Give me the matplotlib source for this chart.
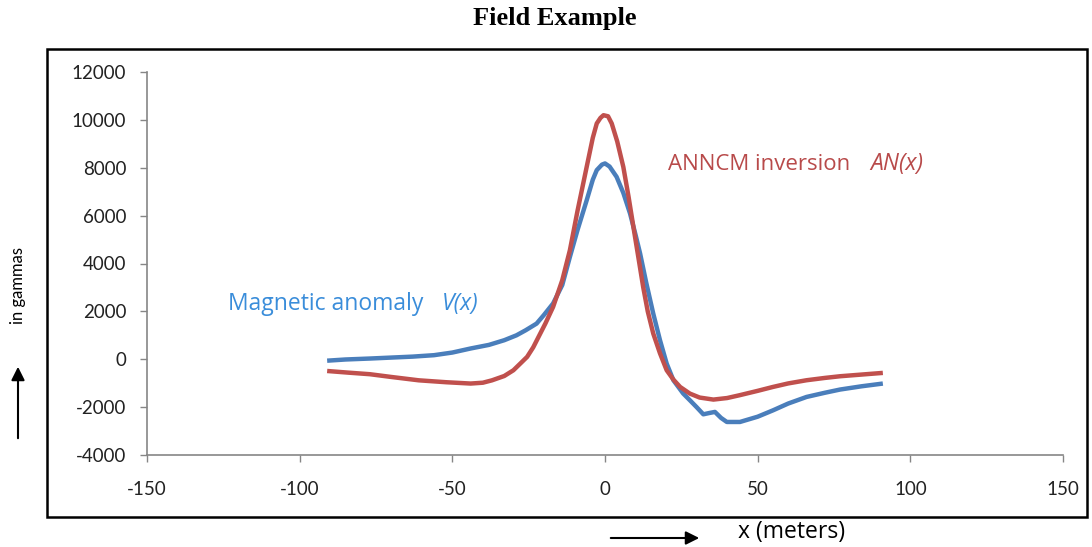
import matplotlib
matplotlib.use("Agg")
import matplotlib.pyplot as plt
from matplotlib.patches import Rectangle, FancyArrowPatch

# ---- data ----
v_x = [-91, -85, -77, -70, -63, -56, -50, -44, -38, -33, -29, -26, -22.4, -20, -17, -14,
       -11.5, -9, -6, -4, -2.7, -1, 0, 1.5, 3.8, 6, 8.2, 10, 11.5, 13.5, 15.8, 18, 20.2,
       22.4, 25.6, 27.8, 30, 32.2, 34, 36, 38, 39.9, 44.2, 50, 55.1, 60, 66, 72, 77, 84, 91]
v_y = [-60, -10, 30, 70, 110, 170, 280, 450, 600, 795, 1000, 1210, 1490, 1850, 2330, 3100,
       4275, 5400, 6640, 7500, 7900, 8130, 8180, 8050, 7620, 6950, 6090, 5200, 4415, 3200,
       1910, 800, -180, -877, -1430, -1713, -2000, -2300, -2250, -2200, -2450, -2620, -2620,
       -2400, -2130, -1850, -1575, -1400, -1265, -1130, -1015]

an_x = [-91, -84, -77, -70, -61, -52, -44, -40, -37, -33, -30, -27.5, -25.5, -23.5, -21.5,
        -19.5, -17, -14, -11.5, -9, -6, -4, -2.7, -1.5, -0.5, 1, 2.2, 4, 6, 7.7, 9.3, 11,
        12.5, 14, 15.8, 18, 20.2, 22.4, 24.6, 27.8, 31, 35.5, 40, 44, 50, 55, 60, 66, 72,
        77, 84, 91]
an_y = [-490, -560, -625, -740, -880, -960, -1015, -980, -880, -700, -460, -150, 100, 500,
        1000, 1500, 2185, 3300, 4555, 6200, 8035, 9250, 9850, 10080, 10195, 10150, 9850,
        9100, 8035, 6800, 5530, 4200, 3020, 2000, 1075, 250, -460, -850, -1157, -1435, -1600,
        -1685, -1620, -1505, -1320, -1157, -1010, -877, -780, -710, -640, -570]

x_ticks = [-150, -100, -50, 0, 50, 100, 150]
y_ticks = [-4000, -2000, 0, 2000, 4000, 6000, 8000, 10000, 12000]

title = "Field Example"
v_label = "Magnetic anomaly"
v_sym = "V(x)"
an_label = "ANNCM inversion"
an_sym = "AN(x)"
x_label = "x (meters)"
y_label = "in gammas"

blue = "#4A7EBB"
red = "#C0504D"
blue_txt = "#3A8DDA"
red_txt = "#B84A4A"
axis_gray = "#868686"
font = "Lato"
afont = "Open Sans"

W, H = 1092, 547
fig = plt.figure(figsize=(W / 100, H / 100), dpi=100)
ax = fig.add_axes([147 / W, 1 - 455 / H, (1063 - 147) / W, (455 - 72) / H])

ax.plot(v_x, v_y, color=blue, lw=3.2, solid_joinstyle="round", solid_capstyle="butt", zorder=3)
ax.plot(an_x, an_y, color=red, lw=3.2, solid_joinstyle="round", solid_capstyle="butt", zorder=4)

ax.set_xlim(-150, 150)
ax.set_ylim(-4000, 12000)
ax.set_xticks(x_ticks)
ax.set_yticks(y_ticks)
ax.set_xticklabels([str(t) for t in x_ticks], fontfamily=font, fontsize=13.5, color="#222222")
ax.set_yticklabels([str(t) for t in y_ticks], fontfamily=font, fontsize=13.5, color="#222222")
ax.tick_params(axis="both", direction="out", length=5, width=1, color=axis_gray)
ax.tick_params(axis="x", pad=14)
ax.tick_params(axis="y", pad=10)
for s in ["top", "right"]:
    ax.spines[s].set_visible(False)
for s in ["left", "bottom"]:
    ax.spines[s].set_color(axis_gray)
    ax.spines[s].set_linewidth(1.2)

# annotations
ax.text(-123.5, 2300, v_label, color=blue_txt, fontfamily=afont, fontsize=16.5, ha="left", va="center")
ax.text(-53.5, 2300, v_sym, color=blue_txt, fontfamily=afont, fontsize=16.5, style="italic",
        ha="left", va="center")
ax.text(20.6, 8150, an_label, color=red_txt, fontfamily=afont, fontsize=16, ha="left", va="center")
ax.text(87.0, 8150, an_sym, color=red_txt, fontfamily=afont, fontsize=16.5, style="italic",
        ha="left", va="center")

# title
fig.text(555 / W, 1 - 19 / H, title, fontfamily="Liberation Serif", fontweight="bold",
         fontsize=19, ha="center", va="center")

# outer frame
fig.patches.append(Rectangle((47 / W, 1 - 517 / H), (1087 - 47) / W, (517 - 49) / H,
                             transform=fig.transFigure, fill=False, edgecolor="black", lw=1.8))

# x label with arrow
fig.text(792 / W, 1 - 532 / H, x_label, fontfamily=afont, fontsize=16.5, ha="center", va="center")
fig.patches.append(FancyArrowPatch(
    (608 / W, 1 - 538 / H), (702 / W, 1 - 538 / H), transform=fig.transFigure,
    arrowstyle="-|>,head_length=8,head_width=4", color="black", lw=1.5))

# y label with arrow
fig.text(18 / W, 1 - 285 / H, y_label, fontfamily=font, fontsize=12, rotation=90,
         ha="center", va="center")
fig.patches.append(FancyArrowPatch(
    (18 / W, 1 - 441 / H), (18 / W, 1 - 364 / H), transform=fig.transFigure,
    arrowstyle="-|>,head_length=8,head_width=4", color="black", lw=1.5))

fig.savefig("out.png", dpi=100)
